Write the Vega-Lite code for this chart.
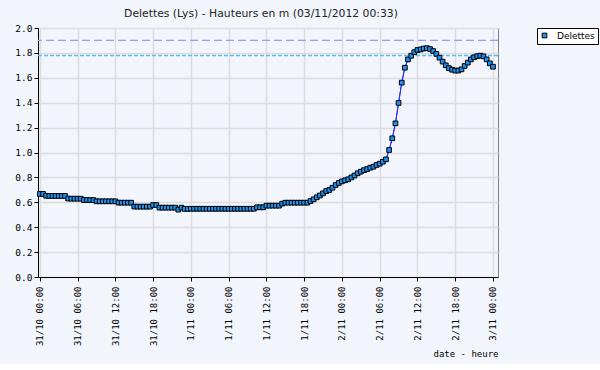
{
  "$schema": "https://vega.github.io/schema/vega-lite/v6.json",
  "width": 460,
  "height": 249,
  "padding": {"left": 14, "top": 8, "right": 5, "bottom": 5},
  "background": "#f2f5fc",
  "title": {"text": "Delettes (Lys) - Hauteurs en m (03/11/2012 00:33)", "font": "DejaVu Sans", "fontSize": 10.8, "fontWeight": "normal", "color": "#222222", "dx": -7},
  "config": {"view": {"stroke": "#808080", "strokeWidth": 1}},
  "data": {"values": [
    {"t":"2012-10-31T00:00","h":0.667},{"t":"2012-10-31T00:30","h":0.667},{"t":"2012-10-31T01:00","h":0.652},{"t":"2012-10-31T01:30","h":0.651},
    {"t":"2012-10-31T02:00","h":0.651},{"t":"2012-10-31T02:30","h":0.651},{"t":"2012-10-31T03:00","h":0.651},{"t":"2012-10-31T03:30","h":0.651},
    {"t":"2012-10-31T04:00","h":0.651},{"t":"2012-10-31T04:30","h":0.630},{"t":"2012-10-31T05:00","h":0.629},{"t":"2012-10-31T05:30","h":0.629},
    {"t":"2012-10-31T06:00","h":0.629},{"t":"2012-10-31T06:30","h":0.629},{"t":"2012-10-31T07:00","h":0.618},{"t":"2012-10-31T07:30","h":0.618},
    {"t":"2012-10-31T08:00","h":0.618},{"t":"2012-10-31T08:30","h":0.618},{"t":"2012-10-31T09:00","h":0.608},{"t":"2012-10-31T09:30","h":0.608},
    {"t":"2012-10-31T10:00","h":0.608},{"t":"2012-10-31T10:30","h":0.608},{"t":"2012-10-31T11:00","h":0.608},{"t":"2012-10-31T11:30","h":0.608},
    {"t":"2012-10-31T12:00","h":0.608},{"t":"2012-10-31T12:30","h":0.597},{"t":"2012-10-31T13:00","h":0.597},{"t":"2012-10-31T13:30","h":0.597},
    {"t":"2012-10-31T14:00","h":0.597},{"t":"2012-10-31T14:30","h":0.597},{"t":"2012-10-31T15:00","h":0.566},{"t":"2012-10-31T15:30","h":0.565},
    {"t":"2012-10-31T16:00","h":0.565},{"t":"2012-10-31T16:30","h":0.565},{"t":"2012-10-31T17:00","h":0.565},{"t":"2012-10-31T17:30","h":0.565},
    {"t":"2012-10-31T18:00","h":0.578},{"t":"2012-10-31T18:30","h":0.578},{"t":"2012-10-31T19:00","h":0.557},{"t":"2012-10-31T19:30","h":0.557},
    {"t":"2012-10-31T20:00","h":0.557},{"t":"2012-10-31T20:30","h":0.557},{"t":"2012-10-31T21:00","h":0.557},{"t":"2012-10-31T21:30","h":0.557},
    {"t":"2012-10-31T22:00","h":0.541},{"t":"2012-10-31T22:30","h":0.557},{"t":"2012-10-31T23:00","h":0.547},{"t":"2012-10-31T23:30","h":0.547},
    {"t":"2012-11-01T00:00","h":0.548},{"t":"2012-11-01T00:30","h":0.548},{"t":"2012-11-01T01:00","h":0.548},{"t":"2012-11-01T01:30","h":0.548},
    {"t":"2012-11-01T02:00","h":0.548},{"t":"2012-11-01T02:30","h":0.548},{"t":"2012-11-01T03:00","h":0.548},{"t":"2012-11-01T03:30","h":0.548},
    {"t":"2012-11-01T04:00","h":0.548},{"t":"2012-11-01T04:30","h":0.548},{"t":"2012-11-01T05:00","h":0.548},{"t":"2012-11-01T05:30","h":0.548},
    {"t":"2012-11-01T06:00","h":0.548},{"t":"2012-11-01T06:30","h":0.548},{"t":"2012-11-01T07:00","h":0.548},{"t":"2012-11-01T07:30","h":0.548},
    {"t":"2012-11-01T08:00","h":0.548},{"t":"2012-11-01T08:30","h":0.548},{"t":"2012-11-01T09:00","h":0.548},{"t":"2012-11-01T09:30","h":0.548},
    {"t":"2012-11-01T10:00","h":0.548},{"t":"2012-11-01T10:30","h":0.560},{"t":"2012-11-01T11:00","h":0.560},{"t":"2012-11-01T11:30","h":0.560},
    {"t":"2012-11-01T12:00","h":0.573},{"t":"2012-11-01T12:30","h":0.573},{"t":"2012-11-01T13:00","h":0.573},{"t":"2012-11-01T13:30","h":0.573},
    {"t":"2012-11-01T14:00","h":0.573},{"t":"2012-11-01T14:30","h":0.589},{"t":"2012-11-01T15:00","h":0.597},{"t":"2012-11-01T15:30","h":0.597},
    {"t":"2012-11-01T16:00","h":0.597},{"t":"2012-11-01T16:30","h":0.597},{"t":"2012-11-01T17:00","h":0.597},{"t":"2012-11-01T17:30","h":0.597},
    {"t":"2012-11-01T18:00","h":0.597},{"t":"2012-11-01T18:30","h":0.597},{"t":"2012-11-01T19:00","h":0.610},{"t":"2012-11-01T19:30","h":0.624},
    {"t":"2012-11-01T20:00","h":0.640},{"t":"2012-11-01T20:30","h":0.655},{"t":"2012-11-01T21:00","h":0.672},{"t":"2012-11-01T21:30","h":0.690},
    {"t":"2012-11-01T22:00","h":0.699},{"t":"2012-11-01T22:30","h":0.717},{"t":"2012-11-01T23:00","h":0.739},{"t":"2012-11-01T23:30","h":0.755},
    {"t":"2012-11-02T00:00","h":0.768},{"t":"2012-11-02T00:30","h":0.777},{"t":"2012-11-02T01:00","h":0.785},{"t":"2012-11-02T01:30","h":0.800},
    {"t":"2012-11-02T02:00","h":0.815},{"t":"2012-11-02T02:30","h":0.833},{"t":"2012-11-02T03:00","h":0.846},{"t":"2012-11-02T03:30","h":0.858},
    {"t":"2012-11-02T04:00","h":0.867},{"t":"2012-11-02T04:30","h":0.878},{"t":"2012-11-02T05:00","h":0.886},{"t":"2012-11-02T05:30","h":0.900},
    {"t":"2012-11-02T06:00","h":0.910},{"t":"2012-11-02T06:30","h":0.926},{"t":"2012-11-02T07:00","h":0.945},{"t":"2012-11-02T07:30","h":1.020},
    {"t":"2012-11-02T08:00","h":1.114},{"t":"2012-11-02T08:30","h":1.234},{"t":"2012-11-02T09:00","h":1.398},{"t":"2012-11-02T09:30","h":1.561},
    {"t":"2012-11-02T10:00","h":1.681},{"t":"2012-11-02T10:30","h":1.748},{"t":"2012-11-02T11:00","h":1.777},{"t":"2012-11-02T11:30","h":1.805},
    {"t":"2012-11-02T12:00","h":1.823},{"t":"2012-11-02T12:30","h":1.828},{"t":"2012-11-02T13:00","h":1.835},{"t":"2012-11-02T13:30","h":1.838},
    {"t":"2012-11-02T14:00","h":1.831},{"t":"2012-11-02T14:30","h":1.815},{"t":"2012-11-02T15:00","h":1.792},{"t":"2012-11-02T15:30","h":1.762},
    {"t":"2012-11-02T16:00","h":1.730},{"t":"2012-11-02T16:30","h":1.700},{"t":"2012-11-02T17:00","h":1.678},{"t":"2012-11-02T17:30","h":1.665},
    {"t":"2012-11-02T18:00","h":1.658},{"t":"2012-11-02T18:30","h":1.658},{"t":"2012-11-02T19:00","h":1.668},{"t":"2012-11-02T19:30","h":1.695},
    {"t":"2012-11-02T20:00","h":1.722},{"t":"2012-11-02T20:30","h":1.748},{"t":"2012-11-02T21:00","h":1.765},{"t":"2012-11-02T21:30","h":1.774},
    {"t":"2012-11-02T22:00","h":1.778},{"t":"2012-11-02T22:30","h":1.772},{"t":"2012-11-02T23:00","h":1.748},{"t":"2012-11-02T23:30","h":1.716},
    {"t":"2012-11-03T00:00","h":1.689}
  ]},
  "layer": [
    {
      "mark": {"type": "line", "color": "#2a2aff", "strokeWidth": 1},
      "encoding": {
        "x": {
          "field": "t", "type": "temporal",
          "scale": {"domain": [{"year": 2012, "month": 10, "date": 30, "hours": 23, "minutes": 42}, {"year": 2012, "month": 11, "date": 3, "hours": 0, "minutes": 48}]},
          "axis": {
            "title": "date - heure", "titleAnchor": "end", "titleFont": "DejaVu Sans Mono", "titleFontSize": 9, "titleFontWeight": "normal", "titleColor": "#000000", "titlePadding": 4,
            "tickCount": 100,
            "values": [
              {"year": 2012, "month": 10, "date": 31, "hours": 0}, {"year": 2012, "month": 10, "date": 31, "hours": 6}, {"year": 2012, "month": 10, "date": 31, "hours": 12}, {"year": 2012, "month": 10, "date": 31, "hours": 18},
              {"year": 2012, "month": 11, "date": 1, "hours": 0}, {"year": 2012, "month": 11, "date": 1, "hours": 6}, {"year": 2012, "month": 11, "date": 1, "hours": 12}, {"year": 2012, "month": 11, "date": 1, "hours": 18},
              {"year": 2012, "month": 11, "date": 2, "hours": 0}, {"year": 2012, "month": 11, "date": 2, "hours": 6}, {"year": 2012, "month": 11, "date": 2, "hours": 12}, {"year": 2012, "month": 11, "date": 2, "hours": 18},
              {"year": 2012, "month": 11, "date": 3, "hours": 0}
            ],
            "format": "%-d/%m %H:%M",
            "labelAngle": 270, "labelFont": "DejaVu Sans Mono", "labelFontSize": 9, "labelColor": "#000000", "labelOverlap": false, "labelPadding": 5,
            "domainColor": "#000000", "tickColor": "#000000", "tickSize": 4,
            "grid": true, "gridColor": "#dddddd", "gridWidth": 1.5
          }
        },
        "y": {
          "field": "h", "type": "quantitative",
          "scale": {"domain": [0, 2], "nice": false},
          "axis": {
            "title": null,
            "tickCount": 100,
            "values": [0, 0.2, 0.4, 0.6, 0.8, 1.0, 1.2, 1.4, 1.6, 1.8, 2.0],
            "format": ".1f",
            "labelFont": "DejaVu Sans Mono", "labelFontSize": 9.5, "labelColor": "#000000", "labelPadding": 2, "labelOverlap": false,
            "domainColor": "#000000", "tickColor": "#000000", "tickSize": 4,
            "grid": true, "gridColor": "#dddddd", "gridWidth": 1.5
          }
        }
      }
    },
    {
      "data": {"values": [{"level": 1.9}]},
      "mark": {"type": "rule", "color": "#9b9bf0", "strokeWidth": 1.3, "strokeDash": [8, 4]},
      "encoding": {"y": {"field": "level", "type": "quantitative"}}
    },
    {
      "data": {"values": [{"level": 1.78}]},
      "mark": {"type": "rule", "color": "#5cbcf5", "strokeWidth": 1.5, "strokeDash": [4, 2]},
      "encoding": {"y": {"field": "level", "type": "quantitative"}}
    },
    {
      "mark": {"type": "line", "color": "#2a2aff", "strokeWidth": 1},
      "encoding": {
        "x": {"field": "t", "type": "temporal"},
        "y": {"field": "h", "type": "quantitative"}
      }
    },
    {
      "mark": {"type": "point", "shape": "square", "filled": true, "size": 22, "stroke": "#000000", "strokeWidth": 1, "opacity": 1},
      "encoding": {
        "x": {"field": "t", "type": "temporal"},
        "y": {"field": "h", "type": "quantitative"},
        "fill": {
          "datum": "Delettes",
          "scale": {"range": ["#1e90ee"]},
          "legend": {"orient": "none", "legendX": 499, "legendY": 0, "title": null, "strokeColor": "#000000", "fillColor": "#ffffff", "padding": 3, "symbolType": "square", "symbolSize": 22, "symbolStrokeColor": "#000000", "symbolStrokeWidth": 1, "labelFont": "DejaVu Sans", "labelFontSize": 9, "labelColor": "#000000", "labelOffset": 8}
        }
      }
    }
  ]
}
